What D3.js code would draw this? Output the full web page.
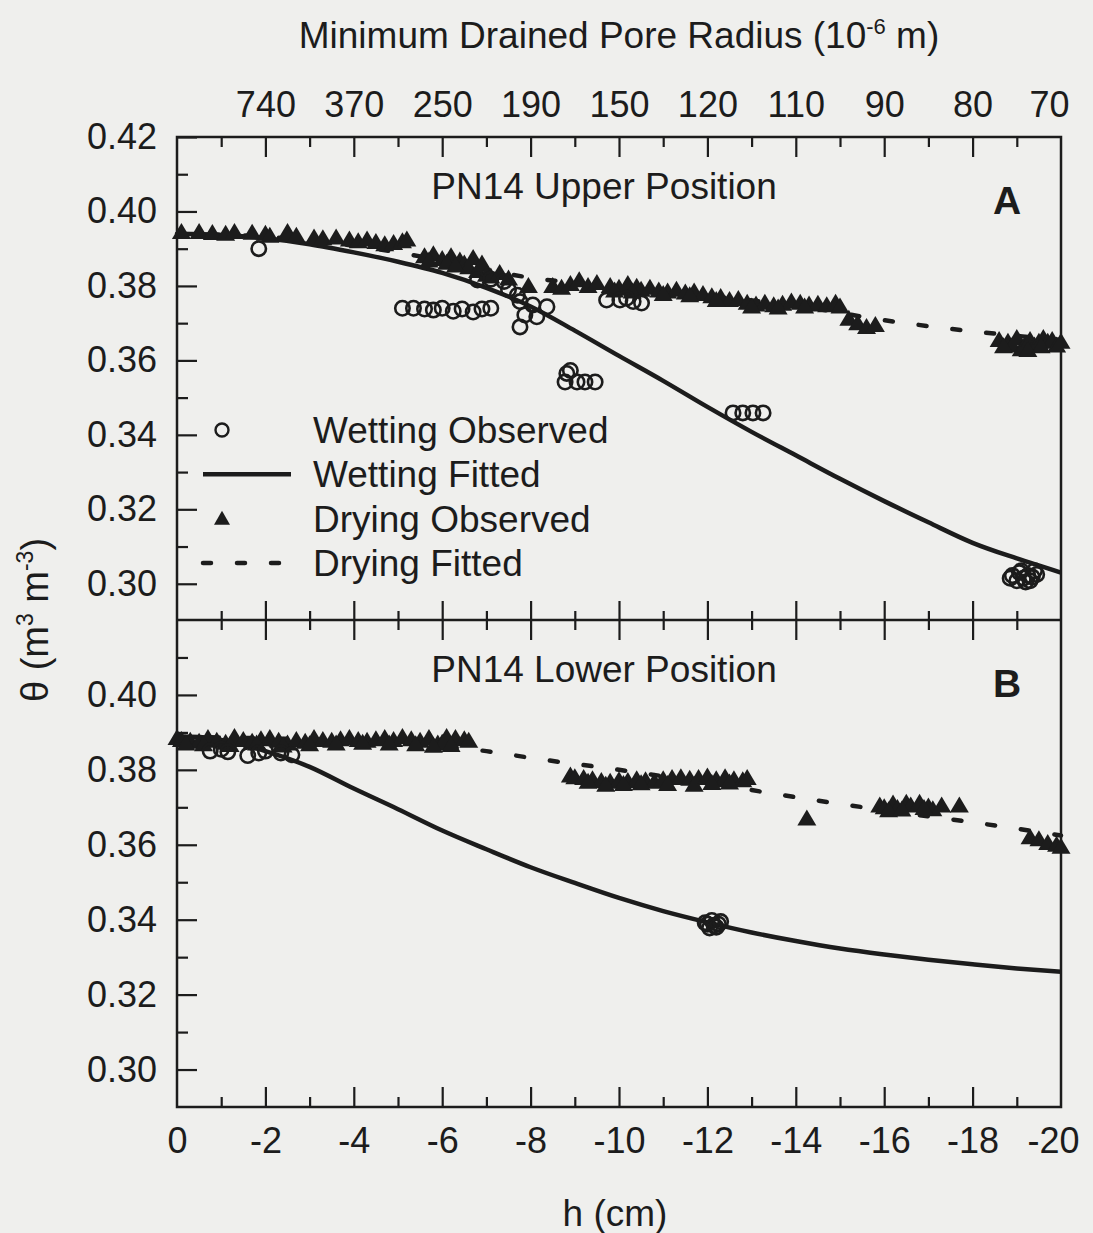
<!DOCTYPE html>
<html>
<head>
<meta charset="utf-8">
<script src="https://cdn.jsdelivr.net/npm/d3@7"></script>
<style>
  body { margin: 0; background: #efefed; }
  svg { display: block; font-family: "Liberation Sans", Arial, sans-serif; }
</style>
</head>
<body>
<div id="chart"></div>
<script>
// ---- data: [h (cm), theta (m3 m-3)] ----
const hMajor = [0, -2, -4, -6, -8, -10, -12, -14, -16, -18, -20];
const hMinor = [-1, -3, -5, -7, -9, -11, -13, -15, -17, -19];
const poreRadiusLabels = ['740', '370', '250', '190', '150', '120', '110', '90', '80', '70'];
const thetaMajorA = [0.30, 0.32, 0.34, 0.36, 0.38, 0.40, 0.42];
const thetaMinorA = [0.31, 0.33, 0.35, 0.37, 0.39, 0.41];
const thetaMajorB = [0.30, 0.32, 0.34, 0.36, 0.38, 0.40];
const thetaMinorB = [0.31, 0.33, 0.35, 0.37, 0.39, 0.41];

const upperWettingObserved = [
  [-1.85, 0.3900],
  [-5.1, 0.3740], [-5.35, 0.3740], [-5.6, 0.3738], [-5.8, 0.3735], [-6.0, 0.3740],
  [-6.25, 0.3732], [-6.45, 0.3738], [-6.7, 0.3730], [-6.9, 0.3738], [-7.1, 0.3740],
  [-6.8, 0.3816], [-7.1, 0.3818], [-7.4, 0.3812], [-7.5, 0.3790], [-7.7, 0.3775],
  [-7.76, 0.3758], [-8.05, 0.3749], [-8.37, 0.3744], [-7.76, 0.3690], [-7.87, 0.3722], [-8.14, 0.3717],
  [-8.78, 0.3542], [-8.9, 0.3573], [-9.05, 0.3542], [-9.23, 0.3542], [-9.46, 0.3542], [-8.82, 0.3565],
  [-9.72, 0.3762], [-10.02, 0.3762], [-10.32, 0.3758], [-10.51, 0.3754], [-10.17, 0.3767],
  [-12.58, 0.3459], [-12.8, 0.3459], [-13.03, 0.3459], [-13.26, 0.3459],
  [-18.9, 0.3022], [-19.06, 0.3030], [-19.25, 0.3022], [-19.4, 0.3035], [-19.3, 0.3008], [-19.0, 0.3008],
  [-18.85, 0.3015], [-19.15, 0.3015], [-19.35, 0.3018], [-19.1, 0.3035], [-19.45, 0.3025], [-19.2, 0.3005]
];

const upperDryingObserved = [
  [-0.1, 0.3945], [-0.5, 0.3945], [-0.8, 0.3942], [-1.1, 0.3940], [-1.3, 0.3945], [-1.7, 0.3943],
  [-2.0, 0.3940], [-2.1, 0.3935], [-2.5, 0.3945], [-2.7, 0.3935], [-3.1, 0.3930], [-3.3, 0.3928],
  [-3.6, 0.3930], [-3.9, 0.3925], [-4.1, 0.3920], [-4.3, 0.3925], [-4.5, 0.3918], [-4.7, 0.3912],
  [-4.9, 0.3915], [-5.1, 0.3920], [-5.2, 0.3925],
  [-5.6, 0.3880], [-5.8, 0.3885], [-6.0, 0.3872], [-6.2, 0.3880], [-6.4, 0.3868], [-6.5, 0.3860],
  [-6.6, 0.3850], [-6.7, 0.3875], [-6.8, 0.3840], [-6.9, 0.3860], [-7.0, 0.3830], [-7.1, 0.3825],
  [-7.3, 0.3835], [-7.5, 0.3820], [-7.95, 0.3800], [-5.7, 0.3868], [-6.1, 0.3862], [-6.3, 0.3855],
  [-8.5, 0.3800], [-8.7, 0.3795], [-8.9, 0.3805], [-9.1, 0.3815], [-9.3, 0.3800], [-9.5, 0.3808],
  [-9.8, 0.3800], [-10.0, 0.3795], [-10.2, 0.3805], [-10.4, 0.3798], [-10.5, 0.3790], [-10.7, 0.3795],
  [-10.9, 0.3788], [-11.1, 0.3785], [-11.3, 0.3790], [-11.5, 0.3782], [-11.7, 0.3785], [-11.9, 0.3778],
  [-12.1, 0.3772], [-12.3, 0.3770], [-12.5, 0.3762], [-12.7, 0.3765], [-12.9, 0.3755], [-13.1, 0.3750],
  [-13.3, 0.3755], [-13.5, 0.3748], [-13.7, 0.3752], [-13.9, 0.3758], [-14.1, 0.3755], [-14.3, 0.3750],
  [-14.5, 0.3752], [-14.7, 0.3748], [-14.9, 0.3755], [-15.0, 0.3745],
  [-9.9, 0.3788], [-10.3, 0.3785], [-11.0, 0.3778], [-11.6, 0.3775], [-12.2, 0.3762], [-13.0, 0.3745],
  [-13.6, 0.3742], [-14.2, 0.3745],
  [-15.2, 0.3712], [-15.4, 0.3700], [-15.6, 0.3690], [-15.8, 0.3695],
  [-18.6, 0.3655], [-18.8, 0.3650], [-18.9, 0.3640], [-19.0, 0.3660], [-19.1, 0.3630], [-19.2, 0.3645],
  [-19.3, 0.3655], [-19.4, 0.3640], [-19.5, 0.3650], [-19.6, 0.3660], [-19.7, 0.3650], [-19.8, 0.3655],
  [-19.9, 0.3640], [-20.0, 0.3650], [-18.7, 0.3638], [-19.25, 0.3628], [-19.55, 0.3638]
];

const upperWettingFitted = [
  [0, 0.3940], [-1, 0.3937], [-2, 0.3928], [-3, 0.3912], [-4, 0.3890], [-5, 0.3865], [-6, 0.3835],
  [-7, 0.3795], [-8, 0.3745], [-9, 0.3680], [-10, 0.3612], [-11, 0.3545], [-12, 0.3475], [-13, 0.3408],
  [-14, 0.3345], [-15, 0.3282], [-16, 0.3222], [-17, 0.3165], [-18, 0.3110], [-19, 0.3068], [-20, 0.3030]
];

const upperDryingFitted = [
  [0, 0.3940], [-2, 0.3932], [-4, 0.3908], [-5, 0.3890], [-6, 0.3868], [-7, 0.3843], [-8, 0.3822],
  [-9, 0.3808], [-10, 0.3796], [-12, 0.3773], [-14, 0.3747], [-16, 0.3708], [-17, 0.3692],
  [-18, 0.3678], [-19, 0.3666], [-20, 0.3655]
];

const lowerWettingObserved = [
  [-0.75, 0.3850], [-1.0, 0.3855], [-1.15, 0.3848], [-1.6, 0.3838], [-1.85, 0.3845], [-2.0, 0.3850],
  [-2.35, 0.3845], [-2.6, 0.3840],
  [-11.95, 0.3392], [-12.1, 0.3398], [-12.25, 0.3388], [-12.05, 0.3378], [-12.2, 0.3380],
  [-12.0, 0.3388], [-12.15, 0.3385], [-12.3, 0.3395]
];

const lowerDryingObserved = [
  [0.0, 0.3885], [-0.1, 0.3880], [-0.3, 0.3878], [-0.5, 0.3875], [-0.7, 0.3885], [-0.9, 0.3878],
  [-1.1, 0.3872], [-1.3, 0.3888], [-1.5, 0.3880], [-1.7, 0.3875], [-1.9, 0.3882], [-2.1, 0.3885],
  [-2.3, 0.3878], [-2.5, 0.3870], [-2.7, 0.3880], [-2.9, 0.3875], [-3.1, 0.3885], [-3.3, 0.3880],
  [-3.5, 0.3878], [-3.7, 0.3882], [-3.9, 0.3885], [-4.1, 0.3880], [-4.3, 0.3878], [-4.5, 0.3882],
  [-4.7, 0.3885], [-4.9, 0.3880], [-5.1, 0.3888], [-5.3, 0.3882], [-5.5, 0.3878], [-5.7, 0.3885],
  [-5.9, 0.3870], [-6.0, 0.3872], [-6.1, 0.3888], [-6.3, 0.3885], [-6.5, 0.3882], [-6.6, 0.3878],
  [-0.2, 0.3870], [-0.6, 0.3868], [-1.2, 0.3866], [-1.8, 0.3870], [-2.4, 0.3865], [-3.0, 0.3868],
  [-3.6, 0.3870], [-4.2, 0.3872], [-4.8, 0.3870], [-5.4, 0.3868], [-5.8, 0.3864], [-6.2, 0.3866],
  [-8.9, 0.3785], [-9.0, 0.3780], [-9.2, 0.3778], [-9.4, 0.3775], [-9.6, 0.3770], [-9.8, 0.3768],
  [-10.0, 0.3772], [-10.2, 0.3770], [-10.4, 0.3775], [-10.6, 0.3772], [-10.8, 0.3768], [-11.0, 0.3775],
  [-11.2, 0.3778], [-11.4, 0.3780], [-11.6, 0.3776], [-11.7, 0.3760], [-11.8, 0.3778], [-12.0, 0.3782],
  [-12.2, 0.3775], [-12.4, 0.3780], [-12.6, 0.3775], [-12.8, 0.3772], [-12.9, 0.3778],
  [-9.3, 0.3768], [-9.7, 0.3760], [-10.1, 0.3762], [-10.5, 0.3764], [-11.1, 0.3762], [-12.1, 0.3765],
  [-12.5, 0.3766],
  [-14.25, 0.3670],
  [-15.9, 0.3705], [-16.0, 0.3700], [-16.2, 0.3710], [-16.3, 0.3698], [-16.5, 0.3712], [-16.6, 0.3705],
  [-16.8, 0.3712], [-17.0, 0.3702], [-17.1, 0.3695], [-17.3, 0.3705], [-17.7, 0.3705],
  [-16.1, 0.3692], [-16.4, 0.3694], [-16.9, 0.3698],
  [-19.3, 0.3620], [-19.5, 0.3615], [-19.7, 0.3605], [-19.9, 0.3600], [-20.0, 0.3595]
];

const lowerWettingFitted = [
  [0, 0.3889], [-0.5, 0.3888], [-1, 0.3880], [-2, 0.3850], [-3, 0.3808], [-4, 0.3750], [-5, 0.3695],
  [-6, 0.3638], [-7, 0.3588], [-8, 0.3540], [-9, 0.3498], [-10, 0.3458], [-11, 0.3423], [-12, 0.3393],
  [-13, 0.3366], [-14, 0.3343], [-15, 0.3323], [-16, 0.3307], [-17, 0.3293], [-18, 0.3281],
  [-19, 0.3270], [-20, 0.3261]
];

const lowerDryingFitted = [
  [0, 0.3888], [-2, 0.3884], [-4, 0.3877], [-6, 0.3862], [-7, 0.3850], [-8, 0.3832], [-10, 0.3800],
  [-12, 0.3765], [-14, 0.3727], [-16, 0.3692], [-18, 0.3660], [-20, 0.3625]
];

const legendItems = ['Wetting Observed', 'Wetting Fitted', 'Drying Observed', 'Drying Fitted'];

// ---- drawing ----
const width = 1093, height = 1233;
const ink = '#1c1c1c';

const svg = d3.select('#chart').append('svg')
  .attr('width', width).attr('height', height)
  .style('background', '#efefed');

const x = d3.scaleLinear().domain([0, -20]).range([177, 1061]);
const yA = d3.scaleLinear().domain([0.29, 0.42]).range([621, 137]);
const yB = d3.scaleLinear().domain([0.29, 0.42]).range([1107, 620]);

const triangle = 'M0,-9L9.5,7L-9.5,7Z';
const legendTriangle = 'M0,-8L8,6L-8,6Z';

function styleAxis(g) {
  g.select('.domain').remove();
  g.selectAll('line').attr('stroke', ink).attr('stroke-width', 2.2);
  g.selectAll('text').attr('fill', ink).attr('font-size', 36).attr('font-family', '"Liberation Sans", Arial, sans-serif');
}

function drawPanel(y, cfg) {
  const p = svg.append('g');

  // left axis ticks (inward)
  p.append('g').attr('transform', 'translate(177,0)')
    .call(d3.axisLeft(y).tickValues(cfg.major).tickSize(-20).tickPadding(20).tickFormat(d3.format('.2f')))
    .call(styleAxis);
  p.append('g').attr('transform', 'translate(177,0)')
    .call(d3.axisLeft(y).tickValues(cfg.minor).tickSize(-11).tickFormat(''))
    .call(styleAxis);

  // top and bottom ticks (inward)
  const top = y.range()[1], bottom = y.range()[0];
  p.append('g').attr('transform', `translate(0,${top})`)
    .call(d3.axisTop(x).tickValues(hMajor.slice(1, -1)).tickSize(-20).tickFormat(''))
    .call(styleAxis);
  p.append('g').attr('transform', `translate(0,${top})`)
    .call(d3.axisTop(x).tickValues(hMinor).tickSize(-10).tickFormat(''))
    .call(styleAxis);
  p.append('g').attr('transform', `translate(0,${bottom})`)
    .call(d3.axisBottom(x).tickValues(hMajor.slice(1, -1)).tickSize(-20).tickFormat(''))
    .call(styleAxis);
  p.append('g').attr('transform', `translate(0,${bottom})`)
    .call(d3.axisBottom(x).tickValues(hMinor).tickSize(-10).tickFormat(''))
    .call(styleAxis);

  const line = d3.line().x(d => x(d[0])).y(d => y(d[1])).curve(d3.curveMonotoneX);

  p.append('path').datum(cfg.dryFit).attr('d', line)
    .attr('fill', 'none').attr('stroke', ink).attr('stroke-width', 4.5)
    .attr('stroke-dasharray', '8,26').attr('stroke-linecap', 'round');
  p.append('path').datum(cfg.wetFit).attr('d', line)
    .attr('fill', 'none').attr('stroke', ink).attr('stroke-width', 4.5);

  p.append('g').selectAll('path').data(cfg.dryObs).join('path')
    .attr('d', triangle)
    .attr('transform', d => `translate(${x(d[0])},${y(d[1])})`)
    .attr('fill', ink);

  p.append('g').selectAll('circle').data(cfg.wetObs).join('circle')
    .attr('cx', d => x(d[0])).attr('cy', d => y(d[1])).attr('r', 7.2)
    .attr('fill', 'none').attr('stroke', ink).attr('stroke-width', 2.6);

  p.append('text').attr('x', 604).attr('y', top + 62)
    .attr('text-anchor', 'middle').attr('font-size', 37).attr('fill', ink)
    .text(cfg.title);
  p.append('text').attr('x', 1007).attr('y', top + 77)
    .attr('text-anchor', 'middle').attr('font-size', 39).attr('font-weight', 'bold').attr('fill', ink)
    .text(cfg.letter);
}

drawPanel(yA, {
  major: thetaMajorA, minor: thetaMinorA,
  wetObs: upperWettingObserved, dryObs: upperDryingObserved,
  wetFit: upperWettingFitted, dryFit: upperDryingFitted,
  title: 'PN14 Upper Position', letter: 'A'
});
drawPanel(yB, {
  major: thetaMajorB, minor: thetaMinorB,
  wetObs: lowerWettingObserved, dryObs: lowerDryingObserved,
  wetFit: lowerWettingFitted, dryFit: lowerDryingFitted,
  title: 'PN14 Lower Position', letter: 'B'
});

// frame and divider
svg.append('rect').attr('x', 177).attr('y', 137).attr('width', 884).attr('height', 970)
  .attr('fill', 'none').attr('stroke', ink).attr('stroke-width', 2.5);
svg.append('line').attr('x1', 177).attr('x2', 1061).attr('y1', 620).attr('y2', 620)
  .attr('stroke', ink).attr('stroke-width', 2.5);

// top axis: minimum drained pore radius
svg.append('g').attr('transform', 'translate(0,137)')
  .call(d3.axisTop(x).tickValues(hMajor.slice(1)).tickSize(0).tickPadding(20)
    .tickFormat((d, i) => poreRadiusLabels[i]))
  .call(styleAxis)
  .call(g => g.selectAll('.tick').filter(d => d === -20).select('text').attr('dx', -12));

// bottom axis labels
svg.append('g').attr('transform', 'translate(0,1107)')
  .call(d3.axisBottom(x).tickValues(hMajor).tickSize(0).tickPadding(20).tickFormat(d => d === 0 ? '0' : '-' + Math.abs(d)))
  .call(styleAxis)
  .call(g => g.selectAll('.tick').filter(d => d === -20).select('text').attr('dx', -8));

// titles
const topTitle = svg.append('text').attr('x', 619).attr('y', 48)
  .attr('text-anchor', 'middle').attr('font-size', 37).attr('fill', ink);
topTitle.append('tspan').text('Minimum Drained Pore Radius (10');
topTitle.append('tspan').attr('font-size', 22).attr('dy', -14).text('-6');
topTitle.append('tspan').attr('dy', 14).text(' m)');

svg.append('text').attr('x', 615).attr('y', 1226)
  .attr('text-anchor', 'middle').attr('font-size', 37).attr('fill', ink)
  .text('h (cm)');

const yTitle = svg.append('text')
  .attr('transform', 'translate(48,620) rotate(-90)')
  .attr('text-anchor', 'middle').attr('font-size', 38).attr('fill', ink);
yTitle.append('tspan').text('θ (m');
yTitle.append('tspan').attr('font-size', 23).attr('dy', -15).text('3');
yTitle.append('tspan').attr('dy', 15).text(' m');
yTitle.append('tspan').attr('font-size', 23).attr('dy', -15).text('-3');
yTitle.append('tspan').attr('dy', 15).text(')');

// legend (inside panel A)
const legend = svg.append('g');
const legendY = d3.scalePoint().domain(legendItems).range([430, 563]);
legendItems.forEach((name, i) => {
  const yy = legendY(name);
  if (i === 0) legend.append('circle').attr('cx', 222).attr('cy', yy).attr('r', 6.5)
    .attr('fill', 'none').attr('stroke', ink).attr('stroke-width', 2.4);
  if (i === 1) legend.append('line').attr('x1', 203).attr('x2', 291).attr('y1', yy).attr('y2', yy)
    .attr('stroke', ink).attr('stroke-width', 4.5);
  if (i === 2) legend.append('path').attr('d', legendTriangle).attr('transform', `translate(222,${yy})`).attr('fill', ink);
  if (i === 3) legend.append('line').attr('x1', 203).attr('x2', 291).attr('y1', yy).attr('y2', yy)
    .attr('stroke', ink).attr('stroke-width', 4.5).attr('stroke-dasharray', '8,26').attr('stroke-linecap', 'round');
  legend.append('text').attr('x', 313).attr('y', yy).attr('dy', '0.35em')
    .attr('font-size', 37).attr('fill', ink).text(name);
});
</script>
</body>
</html>
